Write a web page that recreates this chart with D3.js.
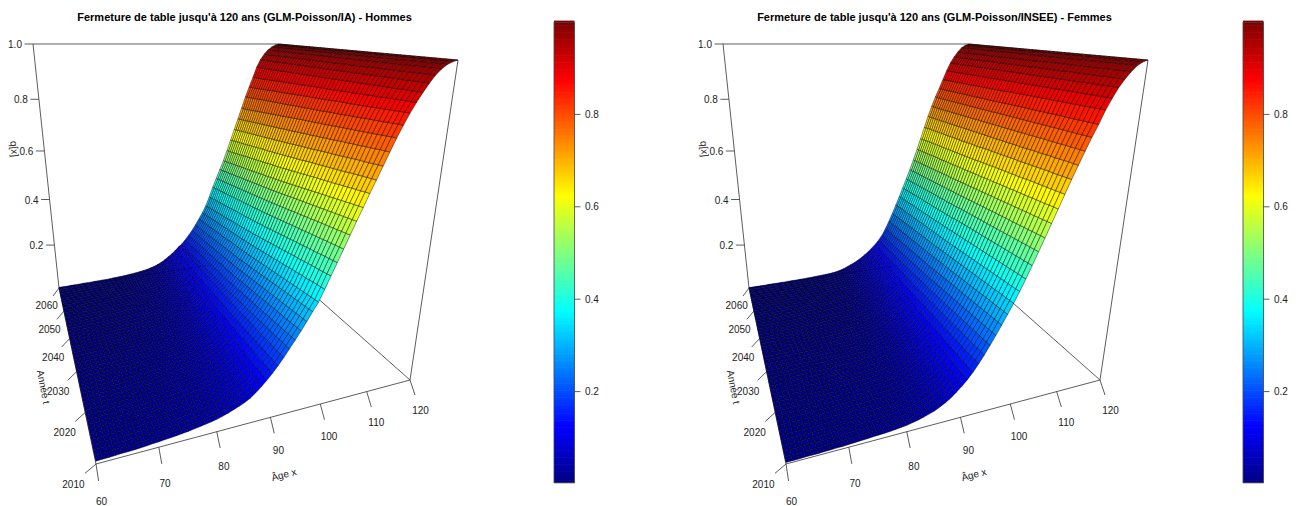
<!DOCTYPE html>
<html>
<head>
<meta charset="utf-8">
<script src="https://cdn.jsdelivr.net/npm/d3@7"></script>
<style>
body { margin: 0; background: #fff; }
text { font-family: "Liberation Sans", Arial, sans-serif; fill: #222; }
</style>
</head>
<body>
<script>
var ages = d3.range(60, 121);
var years = d3.range(2010, 2061);
var ageTicks = [60, 70, 80, 90, 100, 110, 120];
var yearTicks = [2010, 2020, 2030, 2040, 2050, 2060];
var qTicks = [0.2, 0.4, 0.6, 0.8, 1.0];
var keyTicks = [0.2, 0.4, 0.6, 0.8];
var jet = ['#00007F', 'blue', '#007FFF', 'cyan', '#7FFF7F', 'yellow', '#FF7F00', 'red', '#7F0000'];

// q in thousandths, one row per age, one column per year (2010..2060)
var qHommes = [
[9,9,9,9,8,8,8,8,8,7, 7,7,7,7,7,6,6,6,6,6, 6,6,5,5,5,5,5,5,5,5, 5,5,4,4,4,4,4,4,4,4, 4,4,4,3,3,3,3,3,3,3, 3],
[10,10,10,9,9,9,9,8,8,8, 8,8,7,7,7,7,7,7,6,6, 6,6,6,6,6,5,5,5,5,5, 5,5,5,5,4,4,4,4,4,4, 4,4,4,4,3,3,3,3,3,3, 3],
[10,10,10,10,9,9,9,9,9,8, 8,8,8,8,7,7,7,7,7,7, 6,6,6,6,6,6,6,5,5,5, 5,5,5,5,5,5,4,4,4,4, 4,4,4,4,4,4,3,3,3,3, 3],
[11,11,11,11,10,10,10,10,10,9, 9,9,9,9,9,8,8,8,8,8, 8,7,7,7,7,7,7,7,7,6, 6,6,6,6,6,6,6,5,5,5, 5,5,5,5,5,5,5,4,4,4, 4],
[12,12,12,11,11,11,11,11,10,10, 10,10,10,9,9,9,9,9,9,8, 8,8,8,8,8,7,7,7,7,7, 7,7,6,6,6,6,6,6,6,6, 5,5,5,5,5,5,5,5,4,4, 4],
[12,12,12,12,12,11,11,11,11,11, 10,10,10,10,10,9,9,9,9,9, 9,8,8,8,8,8,8,8,7,7, 7,7,7,7,7,6,6,6,6,6, 6,6,6,5,5,5,5,5,5,5, 4],
[13,13,13,13,12,12,12,12,12,11, 11,11,11,11,11,10,10,10,10,10, 10,9,9,9,9,9,9,9,8,8, 8,8,8,8,8,7,7,7,7,7, 7,7,7,6,6,6,6,6,6,6, 5],
[14,14,14,13,13,13,13,13,12,12, 12,12,12,11,11,11,11,11,11,10, 10,10,10,10,10,9,9,9,9,9, 9,9,8,8,8,8,8,8,8,7, 7,7,7,7,7,7,7,6,6,6, 5],
[15,15,15,14,14,14,14,14,13,13, 13,13,13,12,12,12,12,12,11,11, 11,11,11,11,10,10,10,10,10,10, 9,9,9,9,9,9,8,8,8,8, 8,8,8,7,7,7,7,7,7,7, 5],
[17,17,16,16,16,16,15,15,15,15, 14,14,14,14,14,13,13,13,13,13, 12,12,12,12,12,11,11,11,11,11, 11,10,10,10,10,10,9,9,9,9, 9,9,9,8,8,8,8,8,8,7, 6],
[18,18,17,17,17,17,16,16,16,16, 15,15,15,15,15,14,14,14,14,14, 13,13,13,13,13,12,12,12,12,12, 11,11,11,11,11,10,10,10,10,10, 9,9,9,9,9,9,8,8,8,8, 6],
[20,20,19,19,19,18,18,18,18,17, 17,17,17,16,16,16,16,15,15,15, 15,15,14,14,14,14,14,13,13,13, 13,12,12,12,12,12,11,11,11,11, 11,10,10,10,10,10,10,9,9,9, 7],
[21,21,21,20,20,20,19,19,19,19, 18,18,18,18,17,17,17,17,16,16, 16,16,15,15,15,15,15,14,14,14, 14,13,13,13,13,13,12,12,12,12, 12,11,11,11,11,11,11,10,10,10, 7],
[23,23,22,22,22,21,21,21,21,20, 20,20,19,19,19,19,18,18,18,18, 17,17,17,17,16,16,16,16,15,15, 15,15,14,14,14,14,14,13,13,13, 13,12,12,12,12,12,11,11,11,11, 8],
[25,25,24,24,24,23,23,23,22,22, 22,21,21,21,21,20,20,20,19,19, 19,19,18,18,18,18,17,17,17,17, 16,16,16,16,15,15,15,15,14,14, 14,14,13,13,13,13,13,12,12,12, 9],
[27,27,26,26,26,25,25,25,24,24, 24,23,23,23,22,22,22,21,21,21, 21,20,20,20,19,19,19,19,18,18, 18,18,17,17,17,17,16,16,16,16, 15,15,15,15,14,14,14,14,13,13, 10],
[30,30,29,29,28,28,28,27,27,27, 26,26,26,25,25,24,24,24,24,23, 23,23,22,22,22,21,21,21,20,20, 20,20,19,19,19,18,18,18,18,17, 17,17,17,16,16,16,16,15,15,15, 11],
[33,33,32,32,31,31,30,30,30,29, 29,29,28,28,27,27,27,26,26,26, 25,25,25,24,24,24,23,23,23,22, 22,22,21,21,21,20,20,20,20,19, 19,19,18,18,18,18,17,17,17,17, 12],
[36,36,35,35,34,34,33,33,33,32, 32,31,31,31,30,30,29,29,29,28, 28,28,27,27,27,26,26,26,25,25, 25,24,24,24,23,23,23,22,22,22, 22,21,21,21,20,20,20,20,19,19, 14],
[39,39,38,38,37,37,37,36,36,35, 35,34,34,34,33,33,32,32,32,31, 31,30,30,30,29,29,29,28,28,28, 27,27,27,26,26,26,25,25,25,24, 24,24,23,23,23,22,22,22,22,21, 16],
[43,43,42,41,41,40,40,39,39,38, 38,37,37,37,36,36,35,35,34,34, 34,33,33,32,32,32,31,31,30,30, 30,29,29,29,28,28,28,27,27,27, 26,26,26,25,25,25,24,24,24,23, 18],
[48,47,47,46,45,45,44,44,43,43, 42,42,41,41,40,40,39,39,38,38, 37,37,36,36,36,35,35,34,34,34, 33,33,32,32,32,31,31,31,30,30, 30,29,29,29,28,28,28,27,27,27, 20],
[54,53,53,52,51,51,50,49,49,48, 48,47,46,46,45,45,44,44,43,43, 42,42,41,41,40,40,39,39,38,38, 37,37,37,36,36,35,35,35,34,34, 33,33,33,32,32,32,31,31,31,30, 23],
[61,60,59,59,58,57,56,56,55,54, 54,53,52,52,51,50,50,49,49,48, 47,47,46,46,45,45,44,44,43,43, 42,42,41,41,40,40,39,39,38,38, 38,37,37,36,36,35,35,35,34,34, 26],
[68,67,66,65,65,64,63,62,62,61, 60,59,59,58,57,57,56,55,55,54, 53,53,52,52,51,50,50,49,49,48, 48,47,47,46,46,45,45,44,44,43, 43,42,42,41,41,40,40,40,39,39, 30],
[76,75,74,73,72,72,71,70,69,69, 68,67,66,66,65,64,63,63,62,61, 61,60,59,59,58,57,57,56,56,55, 55,54,53,53,52,52,51,51,50,50, 49,49,48,48,47,47,46,46,45,45, 35],
[86,85,84,83,82,81,80,79,79,78, 77,76,75,74,74,73,72,71,71,70, 69,68,68,67,66,65,65,64,64,63, 62,62,61,60,60,59,59,58,58,57, 57,56,55,55,54,54,53,53,52,52, 42],
[100,99,98,96,95,94,93,92,91,90, 89,88,87,86,85,84,83,82,81,80, 79,79,78,77,76,75,74,74,73,72, 71,71,70,69,68,68,67,66,66,65, 64,64,63,62,62,61,61,60,59,59, 50],
[116,115,113,112,111,110,108,107,106,105, 104,103,102,100,99,98,97,96,95,94, 93,92,91,90,89,88,87,86,85,84, 83,82,81,80,80,79,78,77,76,75, 75,74,73,72,71,71,70,69,68,68, 60],
[134,133,131,130,129,127,126,125,123,122, 121,120,118,117,116,115,114,112,111,110, 109,108,107,106,105,103,102,101,100,99, 98,97,96,95,94,93,92,91,90,89, 88,87,86,85,84,84,83,82,81,80, 72],
[153,152,150,149,147,146,145,143,142,140, 139,138,136,135,134,132,131,130,129,127, 126,125,124,122,121,120,119,118,116,115, 114,113,112,111,110,108,107,106,105,104, 103,102,101,100,99,98,97,96,95,94, 84],
[174,172,171,169,168,166,165,163,162,160, 159,157,156,155,153,152,150,149,148,146, 145,144,142,141,140,138,137,136,135,133, 132,131,130,128,127,126,125,124,122,121, 120,119,118,117,116,115,114,112,111,110, 98],
[197,195,194,192,190,189,187,185,184,182, 181,179,178,176,174,173,171,170,168,167, 166,164,163,161,160,158,157,155,154,153, 151,150,149,147,146,145,143,142,141,139, 138,137,136,134,133,132,131,129,128,127, 114],
[222,220,218,215,213,211,209,207,205,203, 200,198,196,194,192,190,187,185,183,181, 179,177,174,172,170,168,166,165,163,161, 160,158,156,155,153,151,150,148,147,145, 143,142,140,138,137,135,133,132,130,129, 127],
[247,245,242,240,238,236,233,231,229,226, 224,222,220,217,215,213,211,208,206,204, 201,199,197,195,192,190,188,187,185,183, 181,179,178,176,174,172,171,169,167,165, 164,162,160,158,157,155,153,151,150,148, 146],
[273,271,268,266,263,261,259,256,254,251, 249,247,244,242,239,237,235,232,230,227, 225,223,220,218,215,213,211,209,207,206, 204,202,200,198,196,194,192,190,189,187, 185,183,181,179,177,175,173,172,170,168, 166],
[300,297,295,292,290,287,285,282,280,277, 275,272,270,267,265,262,260,257,255,252, 250,247,245,242,240,237,235,233,231,229, 227,225,223,221,219,217,215,213,211,209, 207,205,204,202,200,198,196,194,192,190, 188],
[328,325,323,320,318,315,313,310,308,305, 302,300,297,295,292,290,287,284,282,279, 277,274,272,269,267,264,262,260,258,256, 254,252,250,248,246,244,242,240,238,235, 233,231,229,227,225,223,221,219,217,215, 213],
[355,352,350,347,345,342,340,337,335,332, 330,327,325,322,320,317,315,312,310,307, 305,302,300,297,295,292,290,288,286,284, 282,280,278,275,273,271,269,267,265,263, 261,259,257,254,252,250,248,246,244,242, 240],
[392,389,387,384,381,378,376,373,370,368, 365,362,359,357,354,351,348,346,343,340, 338,335,332,329,327,324,322,320,317,315, 313,311,308,306,304,302,300,297,295,293, 291,288,286,284,282,280,277,275,273,270, 268],
[430,427,424,421,419,416,413,410,407,404, 402,399,396,393,390,387,385,382,379,376, 373,370,368,365,362,359,357,354,352,350, 347,345,343,340,338,336,333,331,328,326, 324,321,319,317,314,312,310,307,305,302, 300],
[468,465,462,460,457,454,451,449,446,443, 440,438,435,432,429,427,424,421,418,416, 413,410,407,405,402,399,397,394,392,390, 387,385,383,380,378,376,373,371,368,366, 364,361,359,357,354,352,350,347,345,342, 340],
[506,503,501,498,496,493,490,488,485,483, 480,477,475,472,470,467,464,462,459,457, 454,451,449,446,444,441,439,437,434,432, 430,428,425,423,421,419,416,414,412,410, 407,405,403,401,398,396,394,392,389,387, 385],
[545,542,540,537,535,532,530,527,525,522, 519,517,514,512,509,507,504,501,499,496, 494,491,489,486,484,481,479,477,474,472, 470,467,465,463,461,458,456,454,451,449, 447,445,442,440,438,435,433,431,429,426, 424],
[583,580,578,575,573,570,568,565,563,560, 558,555,553,550,548,545,543,540,538,535, 533,530,528,525,523,520,518,516,513,511, 509,507,504,502,500,498,495,493,491,489, 486,484,482,480,477,475,473,471,468,466, 464],
[620,618,615,613,610,608,605,603,600,598, 595,593,590,588,585,583,580,578,575,573, 570,568,565,563,560,558,556,554,551,549, 547,545,542,540,538,536,534,531,529,527, 525,523,520,518,516,514,512,509,507,505, 503],
[658,656,653,651,649,646,644,642,639,637, 635,632,630,628,626,623,621,619,616,614, 612,609,607,605,602,600,598,596,594,592, 590,587,585,583,581,579,577,575,573,571, 569,566,564,562,560,558,556,554,552,550, 548],
[694,692,690,688,686,684,682,679,677,675, 673,671,669,667,665,663,661,659,657,654, 652,650,648,646,644,642,640,638,636,634, 632,630,628,627,625,623,621,619,617,615, 613,611,609,607,605,604,602,600,598,596, 594],
[731,729,727,725,723,722,720,718,716,714, 712,710,708,707,705,703,701,699,697,695, 693,692,690,688,686,684,682,680,679,677, 675,673,672,670,668,666,665,663,661,659, 658,656,654,652,651,649,647,645,644,642, 640],
[768,766,765,763,761,760,758,756,755,753, 751,750,748,746,744,743,741,739,738,736, 734,733,731,729,728,726,724,723,721,720, 718,716,715,713,712,710,708,707,705,704, 702,700,699,697,696,694,692,691,689,688, 686],
[804,803,801,800,798,797,795,794,792,791, 790,788,787,785,784,782,781,779,778,777, 775,774,772,771,770,768,767,765,764,762, 761,759,758,756,755,753,752,750,749,747, 746,744,743,741,740,738,737,735,734,733, 733],
[837,836,835,834,832,831,830,829,828,826, 825,824,823,822,820,819,818,817,816,814, 813,812,811,810,809,808,807,806,805,804, 802,801,800,799,798,797,796,795,794,793, 792,791,790,788,787,786,785,784,783,782, 780],
[868,867,866,865,864,863,862,861,860,859, 858,857,856,855,854,854,853,852,851,850, 849,848,847,846,845,845,844,843,842,841, 840,839,838,837,836,835,834,834,833,832, 831,830,829,828,827,826,825,824,823,823, 822],
[895,894,894,893,892,892,891,890,889,889, 888,887,887,886,885,885,884,883,883,882, 881,881,880,880,879,879,878,877,877,876, 875,875,874,873,873,872,871,871,870,869, 869,868,867,867,866,865,865,864,864,863, 863],
[920,920,919,919,919,918,918,918,917,917, 917,916,916,916,915,915,915,914,914,914, 913,913,913,912,912,912,912,911,911,911, 910,910,910,909,909,909,908,908,908,907, 907,907,906,906,906,906,905,905,905,905, 905],
[943,943,943,943,942,942,942,942,942,942, 941,941,941,941,941,941,940,940,940,940, 940,940,939,939,939,939,939,939,939,938, 938,938,938,938,938,938,937,937,937,937, 937,937,937,936,936,936,936,936,936,936, 936],
[963,963,963,963,963,962,962,962,962,962, 962,962,962,962,961,961,961,961,961,961, 961,961,960,960,960,960,960,960,960,960, 960,959,959,959,959,959,959,959,959,959, 959,958,958,958,958,958,958,958,958,958, 958],
[978,978,978,978,978,978,978,978,977,977, 977,977,977,977,977,977,977,977,977,976, 976,976,976,976,976,976,976,976,976,976, 976,976,976,976,975,975,975,975,975,975, 975,975,975,975,975,975,975,975,975,975, 975],
[989,989,989,989,989,989,989,989,989,989, 988,988,988,988,988,988,988,988,988,988, 988,988,988,988,988,988,988,988,988,988, 988,988,988,988,987,987,987,987,987,987, 987,987,987,987,987,987,987,987,987,987, 987],
[996,996,996,996,996,996,996,996,996,996, 996,996,996,996,996,996,996,996,996,996, 996,996,996,996,996,996,995,995,995,995, 995,995,995,995,995,995,995,995,995,995, 995,995,995,995,995,995,995,995,995,995, 995],
[1000,1000,1000,1000,1000,1000,1000,1000,1000,1000, 1000,1000,1000,1000,1000,1000,1000,1000,1000,1000, 1000,1000,1000,1000,1000,1000,1000,1000,1000,1000, 1000,1000,1000,1000,1000,1000,1000,1000,1000,1000, 1000,1000,1000,1000,1000,1000,1000,1000,1000,1000, 1000]
];
var qFemmes = [
[5,5,5,5,5,5,4,4,4,4, 4,4,4,4,4,4,4,3,3,3, 3,3,3,3,3,3,3,3,3,3, 3,3,3,3,3,3,3,2,2,2, 2,2,2,2,2,2,2,2,2,2, 2],
[5,5,5,5,5,5,5,4,4,4, 4,4,4,4,4,4,4,4,3,3, 3,3,3,3,3,3,3,3,3,3, 3,3,3,3,3,3,3,3,2,2, 2,2,2,2,2,2,2,2,2,2, 2],
[5,5,5,5,5,5,5,5,4,4, 4,4,4,4,4,4,4,4,4,3, 3,3,3,3,3,3,3,3,3,3, 3,3,3,3,3,3,3,3,3,2, 2,2,2,2,2,2,2,2,2,2, 2],
[6,6,6,6,5,5,5,5,5,5, 5,5,4,4,4,4,4,4,4,4, 4,4,3,3,3,3,3,3,3,3, 3,3,3,3,3,3,3,3,3,3, 3,2,2,2,2,2,2,2,2,2, 2],
[6,6,6,6,6,6,5,5,5,5, 5,5,5,5,4,4,4,4,4,4, 4,4,4,4,3,3,3,3,3,3, 3,3,3,3,3,3,3,3,3,3, 3,3,3,2,2,2,2,2,2,2, 2],
[6,6,6,6,6,6,6,6,5,5, 5,5,5,5,5,5,5,5,4,4, 4,4,4,4,4,4,4,4,4,4, 4,4,4,3,3,3,3,3,3,3, 3,3,3,3,3,3,3,3,3,3, 3],
[7,7,7,7,7,7,7,6,6,6, 6,6,6,6,6,6,6,5,5,5, 5,5,5,5,5,5,5,5,5,5, 4,4,4,4,4,4,4,4,4,4, 4,4,4,3,3,3,3,3,3,3, 3],
[7,7,7,7,7,7,7,7,7,6, 6,6,6,6,6,6,6,6,6,5, 5,5,5,5,5,5,5,5,5,5, 5,4,4,4,4,4,4,4,4,4, 4,4,4,4,3,3,3,3,3,3, 3],
[8,8,8,8,8,7,7,7,7,7, 7,7,7,6,6,6,6,6,6,6, 6,6,5,5,5,5,5,5,5,5, 5,5,5,5,4,4,4,4,4,4, 4,4,4,4,4,4,3,3,3,3, 3],
[8,8,8,8,8,8,8,8,7,7, 7,7,7,7,7,7,6,6,6,6, 6,6,6,6,5,5,5,5,5,5, 5,5,5,5,5,4,4,4,4,4, 4,4,4,4,4,4,4,3,3,3, 3],
[9,9,9,9,9,9,8,8,8,8, 8,8,8,7,7,7,7,7,7,7, 7,6,6,6,6,6,6,6,6,6, 6,5,5,5,5,5,5,5,5,5, 5,5,4,4,4,4,4,4,4,4, 4],
[10,10,10,10,9,9,9,9,9,9, 9,8,8,8,8,8,8,8,8,7, 7,7,7,7,7,7,7,6,6,6, 6,6,6,6,6,6,5,5,5,5, 5,5,5,5,5,5,5,4,4,4, 4],
[11,11,11,10,10,10,10,10,10,10, 9,9,9,9,9,9,9,8,8,8, 8,8,8,8,8,7,7,7,7,7, 7,7,7,6,6,6,6,6,6,6, 6,6,5,5,5,5,5,5,5,5, 4],
[12,12,12,11,11,11,11,11,11,10, 10,10,10,10,10,9,9,9,9,9, 9,9,9,8,8,8,8,8,8,8, 8,7,7,7,7,7,7,7,7,6, 6,6,6,6,6,6,6,6,5,5, 5],
[13,13,12,12,12,12,12,12,11,11, 11,11,11,11,10,10,10,10,10,10, 9,9,9,9,9,9,9,8,8,8, 8,8,8,8,8,7,7,7,7,7, 7,7,7,7,6,6,6,6,6,6, 5],
[14,14,13,13,13,13,13,12,12,12, 12,12,12,11,11,11,11,11,11,10, 10,10,10,10,10,9,9,9,9,9, 9,9,9,8,8,8,8,8,8,8, 8,7,7,7,7,7,7,7,7,7, 6],
[15,15,15,14,14,14,14,14,13,13, 13,13,13,12,12,12,12,12,12,11, 11,11,11,11,11,10,10,10,10,10, 10,9,9,9,9,9,9,9,9,8, 8,8,8,8,8,8,8,7,7,7, 6],
[16,16,16,16,15,15,15,15,14,14, 14,14,14,13,13,13,13,13,13,12, 12,12,12,12,12,11,11,11,11,11, 11,10,10,10,10,10,10,10,9,9, 9,9,9,9,9,8,8,8,8,8, 7],
[18,18,18,17,17,17,17,16,16,16, 16,16,15,15,15,15,15,14,14,14, 14,14,13,13,13,12,12,12,12,12, 12,11,11,11,11,11,11,11,10,10, 10,10,10,10,10,9,9,9,9,9, 8],
[20,20,19,19,19,19,18,18,18,18, 17,17,17,17,16,16,16,16,16,15, 15,15,15,15,14,13,13,13,13,13, 13,12,12,12,12,12,12,12,11,11, 11,11,11,11,10,10,10,10,10,10, 9],
[22,22,21,21,21,20,20,20,20,19, 19,19,19,18,18,18,18,17,17,17, 17,17,16,16,16,15,15,15,15,15, 14,14,14,14,14,13,13,13,13,13, 13,12,12,12,12,12,12,11,11,11, 10],
[26,26,25,25,24,24,24,23,23,23, 23,22,22,22,21,21,21,21,20,20, 20,20,19,19,19,17,17,17,17,16, 16,16,16,15,15,15,15,15,14,14, 14,14,14,13,13,13,13,13,12,12, 11],
[30,30,29,29,28,28,28,27,27,27, 26,26,26,25,25,25,24,24,24,23, 23,23,22,22,22,20,20,20,19,19, 19,19,18,18,18,18,17,17,17,17, 16,16,16,16,15,15,15,15,14,14, 13],
[35,35,34,34,33,33,33,32,32,31, 31,31,30,30,29,29,29,28,28,28, 27,27,27,26,26,24,24,24,23,23, 23,22,22,22,22,21,21,21,20,20, 20,20,19,19,19,18,18,18,18,17, 16],
[41,41,40,40,39,39,38,38,37,37, 37,36,36,35,35,34,34,34,33,33, 32,32,32,31,31,29,29,28,28,28, 27,27,27,26,26,26,25,25,25,24, 24,24,23,23,23,22,22,22,21,21, 20],
[47,47,46,46,45,45,44,44,43,43, 42,42,41,41,40,40,39,39,39,38, 38,37,37,37,36,34,34,34,33,33, 33,32,32,32,31,31,30,30,30,29, 29,29,28,28,28,27,27,27,26,26, 25],
[56,55,55,54,54,53,53,52,52,51, 51,50,50,49,49,48,48,47,47,47, 46,46,45,45,45,43,43,42,42,42, 41,41,40,40,40,39,39,38,38,38, 37,37,37,36,36,35,35,35,34,34, 33],
[66,65,65,64,64,63,63,62,62,61, 61,60,59,59,58,58,57,57,56,56, 55,55,54,54,53,51,51,50,50,49, 49,49,48,48,47,47,46,46,45,45, 45,44,44,43,43,42,42,42,41,41, 40],
[78,77,76,76,75,75,74,73,73,72, 72,71,70,70,69,69,68,67,67,66, 66,65,65,64,63,61,61,60,60,59, 59,58,58,57,57,56,56,55,55,54, 54,53,53,52,52,51,51,50,50,49, 48],
[93,92,91,91,90,89,88,88,87,86, 85,85,84,83,83,82,81,80,80,79, 78,78,77,76,76,73,72,72,71,71, 70,69,69,68,68,67,66,66,65,65, 64,63,63,62,62,61,61,60,60,59, 57],
[109,108,107,106,105,104,104,103,102,101, 100,99,98,98,97,96,95,94,93,93, 92,91,90,89,89,86,85,84,84,83, 82,82,81,80,79,79,78,77,77,76, 75,75,74,73,73,72,71,71,70,69, 68],
[127,126,125,124,123,122,121,120,119,118, 117,116,115,114,113,112,111,110,109,108, 107,106,105,104,103,101,100,99,98,98, 97,96,95,94,94,93,92,91,90,90, 89,88,87,86,86,85,84,83,83,82, 80],
[148,147,146,144,143,142,141,139,138,137, 136,134,133,132,131,129,128,127,126,124, 123,122,121,119,118,117,116,115,114,113, 112,111,110,109,108,107,106,105,104,103, 102,101,100,99,98,97,96,95,94,94, 93],
[172,171,169,168,166,165,163,162,160,159, 158,156,155,153,152,150,149,147,146,145, 143,142,140,139,137,136,135,134,133,132, 130,129,128,127,126,125,124,123,121,120, 119,118,117,116,115,114,112,111,110,109, 108],
[198,196,195,193,191,190,188,186,185,183, 182,180,178,177,175,173,172,170,168,167, 165,163,162,160,159,157,156,154,153,152, 150,149,148,146,145,144,142,141,140,138, 137,136,134,133,132,130,129,128,126,125, 124],
[226,224,222,220,219,217,215,213,211,209, 208,206,204,202,200,198,197,195,193,191, 189,187,186,184,182,180,179,177,176,174, 173,171,170,168,167,165,164,162,161,159, 158,156,155,153,152,150,149,147,146,144, 143],
[255,253,251,249,247,245,243,241,239,237, 235,233,231,229,227,225,223,221,219,217, 215,213,211,209,207,205,203,202,200,199, 197,195,194,192,191,189,187,186,184,183, 181,179,178,176,175,173,171,170,168,167, 165],
[285,283,281,279,277,275,273,271,269,267, 265,263,261,259,258,256,254,252,250,248, 246,244,242,240,238,236,234,233,231,229, 228,226,225,223,221,220,218,216,215,213, 211,210,208,206,205,203,201,200,198,197, 195],
[316,314,312,310,308,307,305,303,301,299, 297,295,293,292,290,288,286,284,282,280, 278,277,275,273,271,269,267,266,264,263, 261,259,258,256,255,253,251,250,248,247, 245,243,242,240,239,237,235,234,232,231, 229],
[348,346,344,343,341,339,337,336,334,332, 330,329,327,325,323,322,320,318,316,315, 313,311,309,308,306,304,302,301,299,298, 296,295,293,292,290,288,287,285,284,282, 280,279,277,276,274,273,271,270,268,266, 265],
[382,380,378,376,375,373,371,370,368,366, 365,363,361,360,358,356,355,353,351,350, 348,346,345,343,341,340,339,337,336,335, 333,332,330,329,328,326,325,323,322,320, 319,318,316,315,313,312,311,309,308,306, 303],
[418,416,415,413,411,410,408,407,405,404, 402,400,399,397,396,394,393,391,389,388, 386,385,383,382,380,378,377,375,374,372, 371,369,368,367,365,364,362,361,360,358, 357,355,354,353,351,350,348,347,345,344, 342],
[456,455,453,452,450,449,447,446,444,443, 441,440,438,437,435,434,433,431,430,428, 427,425,424,422,421,417,416,414,413,411, 410,408,407,406,404,403,401,400,399,397, 396,394,393,392,390,389,387,386,384,383, 382],
[495,494,492,491,489,488,486,485,483,482, 480,479,477,476,474,473,472,470,469,467, 466,464,463,461,460,457,456,454,453,451, 450,449,447,446,445,443,442,440,439,438, 436,435,433,432,431,429,428,426,425,424, 422],
[534,533,531,530,528,527,525,524,522,521, 520,518,517,515,514,512,511,509,508,506, 505,503,502,500,499,497,496,494,493,492, 490,489,488,486,485,484,482,481,480,478, 477,476,474,473,472,470,469,468,466,465, 463],
[574,573,571,570,568,567,566,564,563,561, 560,559,557,556,554,553,552,550,549,547, 546,545,543,542,540,539,538,536,535,534, 532,531,530,529,527,526,525,523,522,521, 519,518,517,516,514,513,512,510,509,508, 507],
[614,613,612,610,609,608,607,605,604,603, 602,601,599,598,597,596,594,593,592,591, 590,588,587,586,585,583,582,581,580,579, 578,576,575,574,573,572,571,569,568,567, 566,565,564,562,561,560,559,558,557,555, 553],
[654,653,652,651,650,649,648,647,646,645, 643,642,641,640,639,638,637,636,635,634, 632,631,630,629,628,626,625,624,623,622, 621,620,619,618,617,616,615,614,613,612, 611,610,609,608,607,606,605,604,603,602, 600],
[694,693,692,691,690,690,689,688,687,686, 685,684,683,682,682,681,680,679,678,677, 676,675,675,674,673,671,670,669,669,668, 667,666,665,664,664,663,662,661,660,659, 659,658,657,656,655,654,654,653,652,651, 649],
[732,731,731,730,729,728,728,727,726,725, 725,724,723,722,721,721,720,719,718,718, 717,716,715,715,714,714,713,712,712,711, 710,710,709,708,708,707,706,705,705,704, 703,703,702,701,701,700,699,699,698,697, 697],
[769,768,768,767,767,766,765,765,764,764, 763,762,762,761,761,760,759,759,758,758, 757,756,756,755,755,754,753,753,752,752, 751,750,750,749,749,748,748,747,746,746, 745,745,744,743,743,742,742,741,741,740, 740],
[805,804,804,803,803,802,802,801,801,800, 800,799,799,798,798,797,797,796,796,795, 795,794,794,793,793,792,791,791,790,790, 789,789,788,788,787,787,786,786,785,785, 784,784,783,783,782,782,781,781,780,780, 780],
[838,838,837,837,836,836,835,835,835,834, 834,833,833,832,832,831,831,831,830,830, 829,829,828,828,827,826,826,825,825,824, 824,824,823,823,822,822,821,821,821,820, 820,819,819,818,818,817,817,817,816,816, 815],
[875,875,874,874,873,873,873,872,872,871, 871,870,870,870,869,869,868,868,868,867, 867,866,866,865,865,863,863,862,862,862, 861,861,860,860,860,859,859,858,858,858, 857,857,856,856,855,855,855,854,854,853, 852],
[905,905,904,904,904,903,903,903,903,902, 902,902,901,901,901,901,900,900,900,899, 899,899,898,898,898,897,897,897,896,896, 896,895,895,895,895,894,894,894,893,893, 893,892,892,892,892,891,891,891,890,890, 890],
[932,932,932,931,931,931,931,931,930,930, 930,930,930,929,929,929,929,929,928,928, 928,928,928,927,927,927,927,926,926,926, 926,926,925,925,925,925,925,924,924,924, 924,924,923,923,923,923,923,922,922,922, 922],
[953,953,953,953,953,952,952,952,952,952, 952,952,952,951,951,951,951,951,951,951, 951,950,950,950,950,950,950,950,950,949, 949,949,949,949,949,949,949,948,948,948, 948,948,948,948,948,947,947,947,947,947, 947],
[971,971,971,971,971,971,970,970,970,970, 970,970,970,970,970,970,970,970,970,969, 969,969,969,969,969,969,969,969,969,969, 969,968,968,968,968,968,968,968,968,968, 968,968,968,968,967,967,967,967,967,967, 967],
[986,986,986,986,986,986,986,986,986,986, 986,986,985,985,985,985,985,985,985,985, 985,985,985,985,985,985,985,985,985,985, 985,985,985,985,985,985,984,984,984,984, 984,984,984,984,984,984,984,984,984,984, 984],
[995,995,995,995,995,995,995,995,995,995, 995,995,995,995,995,995,995,995,995,995, 995,995,995,995,995,994,994,994,994,994, 994,994,994,994,994,994,994,994,994,994, 994,994,994,994,994,994,994,994,994,994, 994],
[1000,1000,1000,1000,1000,1000,1000,1000,1000,1000, 1000,1000,1000,1000,1000,1000,1000,1000,1000,1000, 1000,1000,1000,1000,1000,1000,1000,1000,1000,1000, 1000,1000,1000,1000,1000,1000,1000,1000,1000,1000, 1000,1000,1000,1000,1000,1000,1000,1000,1000,1000, 1000]
];

var width = 1299, height = 506;
var svg = d3.select('body').append('svg').attr('width', width).attr('height', height).style('display', 'block');

var ageScale = d3.scaleLinear().domain([60, 120]).range([0, 1]);
var yearScale = d3.scaleLinear().domain([2010, 2060]).range([0, 1]);
var qScale = d3.scaleLinear().domain([0, 1]).range([0, 1]);
var colour = d3.scaleLinear().domain(d3.range(9).map(function (i) { return i / 8; })).range(jet).clamp(true);
var keyY = d3.scaleLinear().domain([0, 1]).range([484, 22]);

// perspective camera fitted on the corners of the box
function project(age, year, q) {
    var u = ageScale(age), v = yearScale(year), w = qScale(q);
    var d = 1 + 0.25 * u + 0.655 * v - 0.2424 * w;
    return [(96 + 416.5 * u + 1.645 * v - 51 * w) / d, (464 + 11 * u + 12.64 * v - 414.5 * w) / d, d];
}

function segment(g, a, b) {
    g.append('line').attr('x1', a[0]).attr('y1', a[1]).attr('x2', b[0]).attr('y2', b[1])
        .attr('stroke', '#333').attr('stroke-width', 0.8);
}

function panel(offsetX, keyOffset, title, q) {
    var g = svg.append('g').attr('transform', 'translate(' + offsetX + ',0)');

    g.append('text').attr('x', 244.5).attr('y', 21).attr('text-anchor', 'middle')
        .style('font-size', '11px').style('font-weight', 'bold').style('fill', '#000').text(title);

    // box
    [[[60, 2010, 0], [120, 2010, 0]], [[60, 2010, 0], [60, 2060, 0]], [[120, 2010, 0], [120, 2060, 0]], [[60, 2060, 0], [120, 2060, 0]],
     [[60, 2060, 0], [60, 2060, 1]], [[120, 2060, 0], [120, 2060, 1]], [[120, 2010, 0], [120, 2010, 1]],
     [[60, 2060, 1], [120, 2060, 1]], [[120, 2060, 1], [120, 2010, 1]]].forEach(function (e) {
        segment(g, project.apply(null, e[0]), project.apply(null, e[1]));
    });

    // age axis
    ageTicks.forEach(function (a) {
        var p = project(a, 2010, 0), t = ageScale(a);
        var dx = 2.6 + 2.4 * t, dy = 17 - 2 * t;
        segment(g, p, [p[0] + dx, p[1] + dy]);
        g.append('text').attr('x', p[0] + dx * 2.1).attr('y', p[1] + dy * 2.1 + 5 - 3 * t).attr('text-anchor', 'middle').style('font-size', '10px').text(a);
    });
    // year axis
    yearTicks.forEach(function (y) {
        var p = project(60, y, 0), t = yearScale(y);
        var dx = -11 + 5 * t, dy = 9.3 - 1.3 * t;
        segment(g, p, [p[0] + dx, p[1] + dy]);
        g.append('text').attr('x', p[0] + dx * 2.05).attr('y', p[1] + dy * 2.1 + 4.5).attr('text-anchor', 'middle').style('font-size', '10px').text(y);
    });
    // q axis
    qTicks.forEach(function (z) {
        var p = project(60, 2060, z);
        segment(g, p, [p[0] - 8.5, p[1]]);
        g.append('text').attr('x', p[0] - 18).attr('y', p[1] + 4).attr('text-anchor', 'middle').style('font-size', '10px').text(d3.format('.1f')(z));
    });

    g.append('text').attr('transform', 'translate(284,475) rotate(-15)').attr('text-anchor', 'middle').attr('dy', 3).style('font-size', '10px').text('Âge x');
    g.append('text').attr('transform', 'translate(43,387) rotate(79)').attr('text-anchor', 'middle').attr('dy', 3).style('font-size', '10px').text('Année t');
    g.append('text').attr('transform', 'translate(14,149) rotate(84)').attr('text-anchor', 'middle').attr('dy', 3).style('font-size', '10px').text('q[x]');

    // surface facets, far ones first
    var facets = [];
    ages.slice(0, -1).forEach(function (a, i) {
        years.slice(0, -1).forEach(function (y, j) {
            var corners = [[i, j], [i + 1, j], [i + 1, j + 1], [i, j + 1]].map(function (c) {
                return project(ages[c[0]], years[c[1]], q[c[0]][c[1]] / 1000);
            });
            facets.push({
                corners: corners,
                depth: d3.mean(corners, function (c) { return c[2]; }),
                value: (q[i][j] + q[i + 1][j] + q[i + 1][j + 1] + q[i][j + 1]) / 4000
            });
        });
    });
    facets.sort(function (a, b) { return b.depth - a.depth; });
    g.append('g').selectAll('polygon').data(facets).enter().append('polygon')
        .attr('points', function (d) { return d.corners.map(function (c) { return c[0].toFixed(2) + ',' + c[1].toFixed(2); }).join(' '); })
        .attr('fill', function (d) { return colour(d.value); })
        .attr('stroke', '#000').attr('stroke-width', 0.55).attr('stroke-opacity', 0.8);

    // colour key
    var k = svg.append('g').attr('transform', 'translate(' + keyOffset + ',0)');
    var steps = d3.range(0.003, 0.999, 0.005);
    k.selectAll('rect.step').data(steps).enter().append('rect').attr('class', 'step')
        .attr('x', 554).attr('width', 20.5)
        .attr('y', function (d) { return keyY(d + 0.005); })
        .attr('height', function (d) { return keyY(d) - keyY(d + 0.005) + 0.6; })
        .attr('fill', function (d) { return colour(d + 0.0025); });
    k.append('rect').attr('x', 554).attr('y', keyY(0.999)).attr('width', 20.5).attr('height', keyY(0.003) - keyY(0.999))
        .attr('fill', 'none').attr('stroke', '#444').attr('stroke-width', 0.8);
    keyTicks.forEach(function (z) {
        k.append('line').attr('x1', 574.5).attr('x2', 580.5).attr('y1', keyY(z)).attr('y2', keyY(z)).attr('stroke', '#333').attr('stroke-width', 0.8);
        k.append('text').attr('x', 585).attr('y', keyY(z) + 3.5).style('font-size', '10px').text(d3.format('.1f')(z));
    });
}

panel(0, 0, "Fermeture de table jusqu'à 120 ans (GLM-Poisson/IA) - Hommes", qHommes);
panel(690, 689, "Fermeture de table jusqu'à 120 ans (GLM-Poisson/INSEE) - Femmes", qFemmes);
</script>
</body>
</html>
